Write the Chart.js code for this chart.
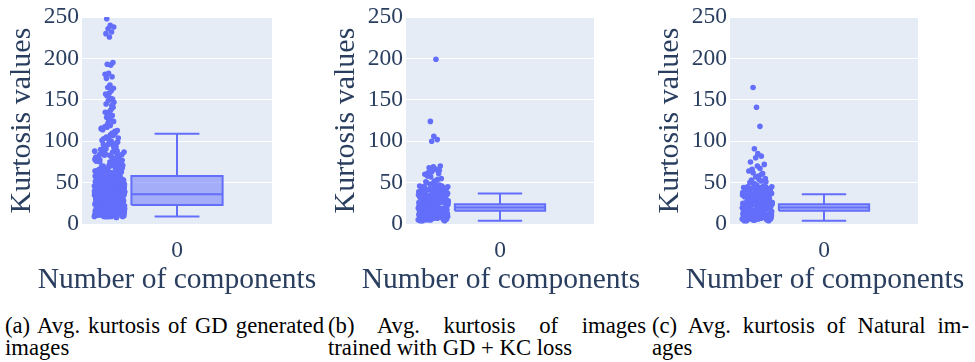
<!DOCTYPE html>
<html>
<head>
<meta charset="utf-8">
<script src="https://cdn.jsdelivr.net/npm/chart.js@4.4.0/dist/chart.umd.min.js"></script>
<style>
  body { margin: 0; background: #fff; width: 975px; height: 362px; overflow: hidden; position: relative; font-family: "Liberation Serif", "Times New Roman", Times, serif; }
  .panel { position: absolute; top: 0; width: 325px; height: 300px; }
  .xt { position: absolute; top: 260px; width: 320px; text-align: center; font-size: 29.5px; line-height: 36px; color: #2a3f5f; white-space: nowrap; }
  .cap { position: absolute; top: 315px; font-size: 22.7px; line-height: 22px; color: #000; }
  .cap .l1 { text-align: justify; text-align-last: justify; }
</style>
</head>
<body>
<div class="panel" style="left:0px"><canvas id="chartA" width="325" height="300"></canvas></div>
<div class="panel" style="left:324px"><canvas id="chartB" width="325" height="300"></canvas></div>
<div class="panel" style="left:648px"><canvas id="chartC" width="325" height="300"></canvas></div>

<div class="xt" style="left:17px">Number of components</div>
<div class="xt" style="left:341px">Number of components</div>
<div class="xt" style="left:665px">Number of components</div>

<div class="cap" style="left:5px; width:319px"><div class="l1">(a) Avg. kurtosis of GD generated</div><div>images</div></div>
<div class="cap" style="left:328px; width:318px"><div class="l1">(b) Avg. kurtosis of images</div><div>trained with GD + KC loss</div></div>
<div class="cap" style="left:652px; width:317px"><div class="l1">(c) Avg. kurtosis of Natural im-</div><div>ages</div></div>

<script>
// categories / ticks
const categories = ['0'];
const yTicks = [0, 50, 100, 150, 200, 250];

// box stats: [lower whisker, q1, median, q3, upper whisker]
const gdBox = [9, 23, 36, 58, 109];
const kcBox = [4, 16, 20, 24, 37];
const natBox = [4, 16, 20, 24, 36];

// (a) GD generated images
const gdPoints = [
  9, 23, 41, 15, 57, 33, 12, 68, 27, 48, 19, 74, 38, 11, 52, 29, 63, 17, 44, 85,
  10, 36, 21, 59, 14, 47, 31, 79, 25, 53, 13, 66, 40, 18, 88, 34, 56, 22, 71, 45,
  8, 28, 50, 16, 62, 37, 12, 81, 24, 43, 30, 70, 20, 55, 11, 39, 76, 26, 49, 15,
  60, 32, 9, 46, 19, 84, 35, 13, 58, 42, 23, 72, 17, 51, 28, 65, 10, 38, 90, 21,
  54, 14, 44, 31, 77, 25, 61, 12, 47, 35, 18, 69, 40, 9, 57, 27, 83, 20, 50, 33,
  16, 64, 42, 11, 53, 29, 75, 22, 46, 37, 14, 87, 26, 59, 19, 34, 67, 10, 48, 30,
  56, 13, 41, 24, 73, 36, 17, 62, 45, 8, 52, 28, 80, 21, 39, 15, 58, 32, 70, 43,
  12, 49, 26, 66, 18, 38, 86, 23, 55, 33, 11, 63, 44, 20, 78, 30, 51, 16, 41, 25,
  35, 10, 27, 54, 14, 43, 22, 60, 31, 9, 47, 19, 37, 68, 24, 12, 56, 29, 40, 17,
  21, 45, 13, 33, 61, 26, 50, 15, 38, 74, 11, 29, 53, 18, 42, 23, 65, 34, 10, 48,
  14, 37, 22, 58, 11, 45, 29, 71, 18, 52, 33, 9, 64, 26, 41, 16, 83, 35, 20, 49,
  12, 60, 27, 43, 15, 76, 31, 10, 54, 38, 23, 67, 13, 46, 30, 89, 19, 57, 25, 40,
  17, 34, 62, 11, 48, 28, 79, 21, 39, 14, 55, 32, 70, 9, 44, 24, 61, 36, 16, 51,
  26, 86, 13, 42, 20, 58, 34, 10, 73, 29, 47, 18, 37, 65, 12, 53, 23, 40, 82, 15,
  31, 50, 19, 68, 27, 11, 45, 36, 22, 59, 14, 77, 33, 41, 17, 63, 25, 9, 54, 30,
  44, 13, 72, 21, 38, 56, 16, 28, 85, 35, 12, 49, 24, 66, 19, 42, 31, 10, 60, 27,
  18, 52, 39, 74, 14, 33, 47, 22, 11, 57, 29, 81, 20, 43, 15, 64, 35, 26, 50, 12,
  37, 88, 24, 46, 17, 30, 69, 13, 55, 40, 21, 9, 62, 32, 16, 48, 78, 27, 41, 19,
  10, 34, 58, 23, 15, 71, 28, 44, 12, 53, 36, 20, 84, 31, 17, 61, 25, 39, 13, 47,
  56, 22, 30, 67, 11, 42, 18, 75, 34, 26, 51, 14, 38, 63, 20, 45, 9, 29, 87, 33
];
const gdUpper = [
  93, 97, 101, 95, 105, 99, 108, 103, 112, 96, 115, 110, 118, 98, 106, 114, 92, 117, 104, 100,
  94, 111, 102, 116, 107, 91, 113, 119, 96, 109
];
const gdOutliers = [
  122, 124, 127, 129, 131, 126, 135, 138, 133, 141, 136, 145, 143, 149, 147, 152, 155, 151, 158,
  157, 161, 165, 164, 168, 176, 178, 182, 181, 192, 193, 195, 226, 230, 232, 236, 238, 240, 248
];

// (b) GD + KC loss
const kcPoints = [
  5, 18, 31, 12, 25, 40, 8, 21, 35, 15, 28, 44, 10, 23, 38, 6, 19, 32, 14, 27,
  42, 9, 22, 36, 17, 30, 4, 13, 26, 39, 11, 24, 45, 7, 20, 33, 16, 29, 41, 5,
  19, 34, 12, 25, 37, 8, 22, 46, 14, 28, 10, 31, 18, 43, 6, 24, 35, 15, 27, 9,
  21, 39, 13, 26, 33, 7, 17, 30, 11, 23, 40, 4, 20, 36, 16, 29, 12, 25, 44, 8,
  18, 32, 14, 26, 38, 10, 22, 34, 6, 19, 28, 15, 41, 11, 24, 37, 9, 21, 31, 13,
  27, 5, 17, 42, 20, 30, 7, 23, 35, 12, 45, 16, 26, 9, 38, 19, 33, 11, 29, 14,
  8, 27, 15, 39, 21, 5, 33, 12, 44, 18, 29, 10, 36, 24, 7, 41, 16, 31, 13, 26,
  20, 4, 35, 11, 28, 43, 17, 9, 38, 23, 14, 32, 6, 25, 45, 19, 30, 12, 40, 22,
  10, 34, 16, 27, 5, 37, 21, 13, 42, 26, 8, 31, 18, 24, 46, 11, 29, 15, 35, 7,
  23, 39, 14, 20, 9, 33, 17, 28, 12, 44, 25, 6, 36, 19, 30, 10, 22, 41, 15, 27,
  13, 38, 5, 24, 32, 18, 11, 43, 21, 8, 34, 16, 26, 40, 12, 29, 7, 20, 37, 14
];
const kcUpper = [47, 49, 51, 53, 48, 55, 52, 58, 61, 63, 60, 66, 68, 70, 69, 50, 54, 57, 46, 48, 62, 65];
const kcOutliers = [100, 102, 106, 124, 199];

// (c) Natural images
const natPoints = [
  6, 20, 33, 11, 26, 41, 9, 17, 37, 14, 29, 43, 5, 24, 39, 12, 21, 31, 8, 27,
  44, 15, 23, 35, 10, 30, 4, 18, 25, 40, 13, 22, 45, 7, 19, 34, 16, 28, 42, 6,
  20, 36, 11, 26, 32, 9, 23, 44, 15, 29, 12, 33, 17, 41, 5, 24, 38, 14, 27, 8,
  21, 37, 10, 25, 31, 7, 18, 30, 13, 22, 39, 4, 19, 35, 16, 28, 11, 26, 43, 9,
  17, 34, 14, 25, 40, 6, 23, 32, 12, 20, 29, 15, 42, 10, 24, 36, 8, 21, 33, 13,
  28, 5, 18, 38, 22, 30, 7, 26, 34, 12, 45, 16, 27, 9, 37, 19, 31, 11, 24, 14,
  9, 25, 14, 38, 20, 6, 32, 11, 43, 17, 28, 8, 35, 23, 5, 40, 15, 30, 12, 27,
  19, 4, 36, 10, 26, 44, 16, 7, 39, 22, 13, 33, 6, 24, 45, 18, 31, 11, 41, 21,
  9, 34, 15, 28, 5, 37, 20, 12, 42, 25, 8, 30, 17, 23, 44, 10, 29, 14, 35, 7,
  22, 38, 13, 19, 8, 32, 16, 27, 11, 43, 24, 6, 36, 18, 31, 9, 21, 40, 14, 26,
  12, 39, 5, 23, 33, 17, 10, 42, 20, 7, 34, 15, 25, 41, 11, 28, 6, 19, 37, 13
];
const natUpper = [46, 47, 50, 52, 49, 55, 58, 53, 61, 57, 64, 67, 62, 72, 70, 75, 60, 48, 51, 54, 66];
const natOutliers = [80, 82, 85, 91, 118, 141, 165];

const BLUE = '#636efa';
const FONT = '"Liberation Serif", "Times New Roman", Times, serif';
const TEXT = '#2a3f5f';
const POINT_POS = -0.355;
const JITTER = 0.16;
const BOX_HALF = 0.24;
const CAP_HALF = 0.118;

const plotBg = {
  id: 'plotBg',
  beforeDraw(chart) {
    const { ctx, chartArea: a } = chart;
    ctx.save();
    ctx.fillStyle = '#e5ecf6';
    ctx.fillRect(a.left, a.top, a.right - a.left, a.bottom - a.top);
    ctx.restore();
  }
};

function jitter(values, width, offset) {
  return values.map((v, i) => {
    const f = ((i + offset) * 0.6180339887) % 1;
    return { x: POINT_POS + (f - 0.5) * width, y: v };
  });
}

function drawPanel(id, box, points, upper, outliers, rightPad) {
  const [lo, q1, med, q3, hi] = box;
  const ctx = document.getElementById(id).getContext('2d');

  const allPoints = jitter(points, JITTER, 0)
    .concat(jitter(upper, JITTER * 0.6, 3))
    .concat(jitter(outliers, JITTER * 0.3, 7));

  new Chart(ctx, {
    type: 'scatter',
    data: {
      datasets: [
        {
          // box body
          type: 'line',
          data: [
            { x: -BOX_HALF, y: q1 }, { x: BOX_HALF, y: q1 }, { x: BOX_HALF, y: q3 },
            { x: -BOX_HALF, y: q3 }, { x: -BOX_HALF, y: q1 }
          ],
          borderColor: BLUE,
          borderWidth: 2,
          backgroundColor: 'rgba(99,110,250,0.5)',
          fill: 'shape',
          pointRadius: 0,
          tension: 0
        },
        {
          // median + whiskers
          type: 'line',
          data: [
            { x: -BOX_HALF, y: med }, { x: BOX_HALF, y: med }, { x: 0, y: null },
            { x: 0, y: q3 }, { x: 0, y: hi }, { x: 0, y: null },
            { x: -CAP_HALF, y: hi }, { x: CAP_HALF, y: hi }, { x: 0, y: null },
            { x: 0, y: q1 }, { x: 0, y: lo }, { x: 0, y: null },
            { x: -CAP_HALF, y: lo }, { x: CAP_HALF, y: lo }
          ],
          borderColor: BLUE,
          borderWidth: 2,
          fill: false,
          pointRadius: 0,
          spanGaps: false,
          tension: 0
        },
        {
          data: allPoints,
          backgroundColor: BLUE,
          borderWidth: 0,
          pointRadius: 2.8
        }
      ]
    },
    options: {
      responsive: false,
      animation: false,
      devicePixelRatio: 1,
      layout: { padding: { top: 15, right: rightPad, left: 0, bottom: 0 } },
      plugins: { legend: { display: false }, tooltip: { enabled: false } },
      scales: {
        x: {
          type: 'linear',
          min: -0.5,
          max: 0.5,
          afterBuildTicks: s => { s.ticks = categories.map((c, i) => ({ value: i })); },
          afterFit: s => { s.height = 76; },
          grid: { display: false },
          border: { display: false },
          ticks: {
            callback: (v, i) => categories[i],
            color: TEXT,
            padding: 5,
            font: { family: FONT, size: 23.5 }
          }
        },
        y: {
          min: 0,
          max: 250,
          afterBuildTicks: s => { s.ticks = yTicks.map(v => ({ value: v })); },
          afterFit: s => { s.width = 82; },
          grid: { color: '#ffffff', lineWidth: 1, drawTicks: false },
          border: { display: false },
          ticks: {
            color: TEXT,
            padding: 3,
            font: { family: FONT, size: 23.5 }
          },
          title: {
            display: true,
            text: 'Kurtosis values',
            color: TEXT,
            font: { family: FONT, size: 30 },
            padding: { top: 4, bottom: 4 }
          }
        }
      }
    },
    plugins: [plotBg]
  });
}

drawPanel('chartA', gdBox, gdPoints, gdUpper, gdOutliers, 53);
drawPanel('chartB', kcBox, kcPoints, kcUpper, kcOutliers, 55);
drawPanel('chartC', natBox, natPoints, natUpper, natOutliers, 55);
</script>
</body>
</html>
